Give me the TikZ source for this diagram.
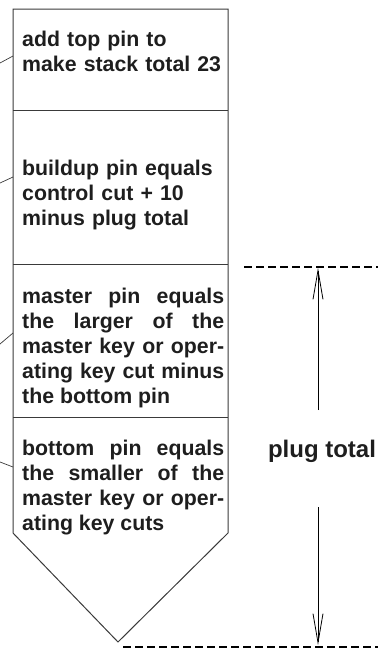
\documentclass[tikz,border=0pt]{standalone}
\usepackage{fontspec}
\setmainfont{Liberation Sans}
\usetikzlibrary{arrows.meta}

\definecolor{stackgray}{HTML}{3A3A3A}
\definecolor{inkblack}{HTML}{1E1E1E}

\begin{document}
\begin{tikzpicture}[
    x=1pt, y=-1pt,
    pintext/.style={
      anchor=base west, inner sep=0pt,
      text width=202pt, text=inkblack,
      font=\fontsize{21.3}{25}\selectfont\bfseries,
    },
    stackline/.style={draw=stackgray, line width=1pt},
    leader/.style={draw=stackgray, line width=0.7pt},
    shearline/.style={draw=black, line width=2pt, dash pattern=on 8pt off 4pt},
    dimarrow/.style={-{Straight Barb[length=29pt, width=10pt]}, line width=0.8pt},
  ]
  \useasboundingbox (0,0) rectangle (387,649);

  % pin stack outline
  \coordinate (stackNW) at (13,9);
  \coordinate (stackNE) at (228,9);
  \coordinate (stackSW) at (13,533);
  \coordinate (stackSE) at (228,533);
  \coordinate (tip) at (118,642);
  \draw[stackline] (stackSW) -- (stackNW) -- (stackNE) -- (stackSE) -- (tip) -- cycle;
  \foreach \y in {110,264,417}
    \draw[stackline] (13,\y) -- (228,\y);

  % pin texts
  \node[pintext, align=left] (toppin) at (22,46)
    {add top pin to\\make stack total 23};
  \node[pintext, align=left] (buildpin) at (22,175)
    {buildup pin equals\\control cut + 10\\minus plug total};
  \node[pintext, align=justify] (masterpin) at (22,303)
    {master pin equals\linebreak the larger of the\linebreak master key or oper-\linebreak
     ating key cut minus\linebreak the bottom pin};
  \node[pintext, align=justify] (bottompin) at (22,455)
    {bottom pin equals\linebreak the smaller of the\linebreak master key or oper-\linebreak
     ating key cuts};

  % leader lines
  \coordinate (lead1) at (0,63);   \coordinate (edge1) at (13,56);
  \coordinate (lead2) at (0,183);  \coordinate (edge2) at (13,177);
  \coordinate (lead3) at (0,344);  \coordinate (edge3) at (13,333);
  \coordinate (lead4) at (0,462);  \coordinate (edge4) at (13,467);
  \foreach \i in {1,...,4}
    \draw[leader] (lead\i) -- (edge\i);

  % shear lines and plug total
  \coordinate (shearTL) at (244,267);
  \coordinate (shearTR) at (378,267);
  \coordinate (shearBL) at (123,647);
  \coordinate (shearBR) at (378,647);
  \draw[shearline] (shearTL) -- (shearTR);
  \draw[shearline] (shearBL) -- (shearBR);

  \node[pintext, anchor=base, text width=, align=center,
        font=\fontsize{24}{28}\selectfont\bfseries] (plug) at (322,457) {plug total};
  \coordinate (upstart) at (318,410);
  \coordinate (uptip) at (318,268);
  \coordinate (downstart) at (318,507);
  \coordinate (downtip) at (318,645);
  \draw[dimarrow] (upstart) -- (uptip);
  \draw[dimarrow] (downstart) -- (downtip);
\end{tikzpicture}
\end{document}
